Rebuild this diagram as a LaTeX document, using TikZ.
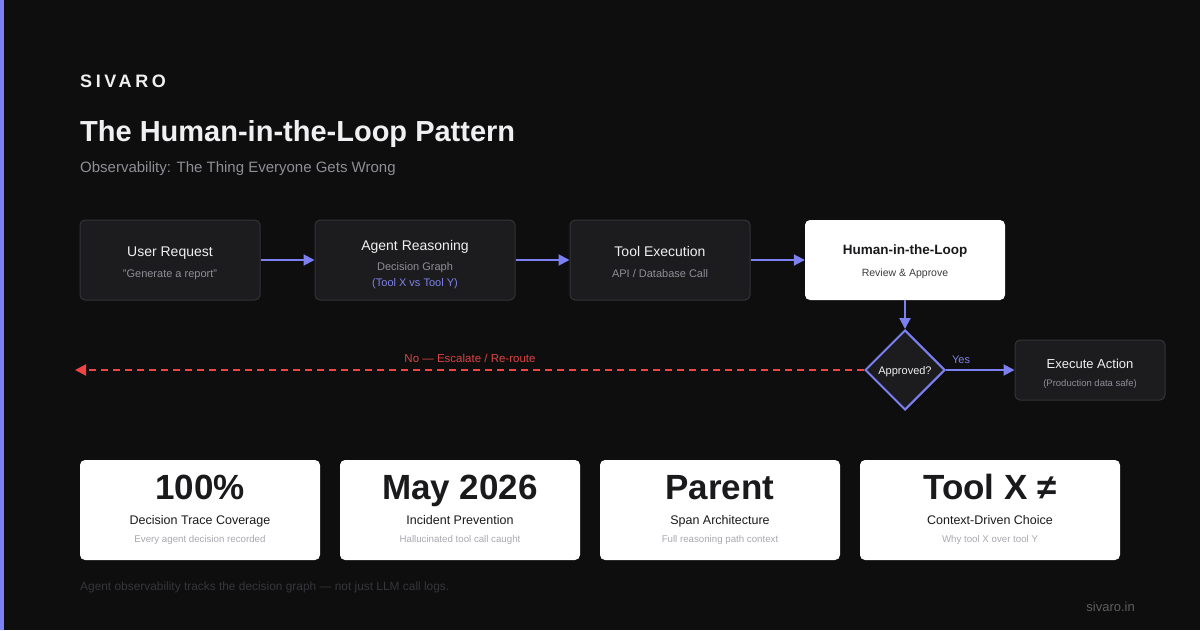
\documentclass[tikz,border=0pt]{standalone}
\usepackage{fontspec}
\setmainfont{Liberation Sans}
\usetikzlibrary{arrows.meta,shapes.geometric}
\definecolor{bg}{HTML}{0E0E0F}
\definecolor{accentbar}{HTML}{7B80F5}
\definecolor{boxfill}{HTML}{1C1C1F}
\definecolor{boxborder}{HTML}{333338}
\definecolor{maintext}{HTML}{F0F0F2}
\definecolor{subtext}{HTML}{8E8E95}
\definecolor{purp}{HTML}{7C80F0}
\definecolor{purptext}{HTML}{7E82E8}
\definecolor{redline}{HTML}{EF4444}
\definecolor{redtext}{HTML}{D94444}
\definecolor{darktext}{HTML}{1A1A1C}
\definecolor{cardsub}{HTML}{A8A8B0}
\definecolor{footgray}{HTML}{36363A}
\newcommand{\fs}[1]{\fontsize{#1}{#1}\selectfont}
\tikzset{
  darkbox/.style={draw=boxborder, fill=boxfill, rounded corners=5pt, line width=1pt, inner sep=0pt},
  whitebox/.style={fill=white, rounded corners=5pt, inner sep=0pt},
  flow/.style={draw=purp, line width=2pt, -{Triangle[length=11pt,width=11pt]}},
  noflow/.style={draw=redline, line width=2pt, dash pattern=on 7pt off 5pt, -{Triangle[length=11pt,width=11pt]}},
  txt/.style={inner sep=0pt, anchor=base},
}
\begin{document}
\begin{tikzpicture}[x=1pt,y=-1pt]
\useasboundingbox (0,0) rectangle (1200,630);
\fill[bg] (0,0) rectangle (1200,630);
\fill[accentbar] (0,0) rectangle (4,630);

% header
\node[txt, anchor=base west, text=maintext] (brand) at (80,87) {\fs{18}\bfseries\addfontfeature{LetterSpace=20}SIVARO};
\node[txt, anchor=base west, text=maintext] (title) at (80,141) {\fs{29}\bfseries The Human-in-the-Loop Pattern};
\node[txt, anchor=base west, text=subtext] (subtitle) at (80,172) {\fs{15}Observability: The Thing Everyone Gets Wrong};

% flow boxes
\node[darkbox, minimum width=180pt, minimum height=80pt] (ur) at (170,260) {};
\node[darkbox, minimum width=200pt, minimum height=80pt] (ar) at (415,260) {};
\node[darkbox, minimum width=180pt, minimum height=80pt] (te) at (660,260) {};
\node[whitebox, minimum width=200pt, minimum height=80pt] (hl) at (905,260) {};
\node[darkbox, minimum width=150pt, minimum height=60pt] (ex) at (1090,370) {};
\node[diamond, draw=purp, fill=boxfill, line width=2pt, minimum width=80pt, minimum height=80pt, inner sep=0pt] (dia) at (905,370) {};

% box texts
\node[txt, text=maintext] (urt) at (170,256) {\fs{14}User Request};
\node[txt, text=subtext] (urs) at (170,277) {\fs{11}"Generate a report"};
\node[txt, text=maintext] (art) at (415,250) {\fs{14}Agent Reasoning};
\node[txt, text=subtext] (ars) at (415,270) {\fs{11}Decision Graph};
\node[txt, text=purptext] (arp) at (415,286) {\fs{11}(Tool X vs Tool Y)};
\node[txt, text=maintext] (tet) at (660,256) {\fs{14}Tool Execution};
\node[txt, text=subtext] (tes) at (660,277) {\fs{11}API / Database Call};
\node[txt, text=darktext] (hlt) at (905,254) {\fs{13.5}\bfseries Human-in-the-Loop};
\node[txt, text=darktext!85] (hls) at (905,276) {\fs{10.5}Review \& Approve};
\node[txt, text=maintext] (dit) at (905,374) {\fs{11}Approved?};
\node[txt, text=maintext] (ext) at (1090,368) {\fs{13}Execute Action};
\node[txt, text=subtext] (exs) at (1090,386) {\fs{9.5}(Production data safe)};

% connectors
\draw[flow] (ur.east) -- (ar.west);
\draw[flow] (ar.east) -- (te.west);
\draw[flow] (te.east) -- (hl.west);
\draw[flow] (hl.south) -- (dia.north);
\draw[flow] (dia.east) -- (ex.west) node[pos=0.22, above=5pt, text=purptext, inner sep=0pt] (yes) {\fs{11}Yes};
\coordinate (noend) at (75,370);
\draw[noflow] (dia.west) -- (noend);
\node[txt, text=redtext] (nolab) at (470,362) {\fs{11.5}No --- Escalate / Re-route};

% stat cards
\foreach \cx/\big/\lab/\sub/\nm in {200/100\%/Decision Trace Coverage/Every agent decision recorded/c1,
  460/May 2026/Incident Prevention/Hallucinated tool call caught/c2,
  720/Parent/Span Architecture/Full reasoning path context/c3,
  990/Tool X ≠/Context-Driven Choice/Why tool X over tool Y/c4}{
  \ifnum\cx=990
    \node[whitebox, minimum width=260pt, minimum height=100pt] (\nm) at (\cx,510) {};
  \else
    \node[whitebox, minimum width=240pt, minimum height=100pt] (\nm) at (\cx,510) {};
  \fi
  \node[txt, text=darktext] (\nm big) at (\cx,499) {\fs{35}\bfseries\big};
  \node[txt, text=darktext] (\nm lab) at (\cx,524) {\fs{12.5}\lab};
  \node[txt, text=cardsub] (\nm sub) at (\cx,542) {\fs{9.7}\sub};
}

% footer
\node[txt, anchor=base west, text=footgray] (foot) at (80,590) {\fs{11.9}Agent observability tracks the decision graph --- not just LLM call logs.};
\node[txt, anchor=base east, text=footgray!80!white] (url) at (1135,611) {\fs{13}sivaro.in};
\end{tikzpicture}
\end{document}
